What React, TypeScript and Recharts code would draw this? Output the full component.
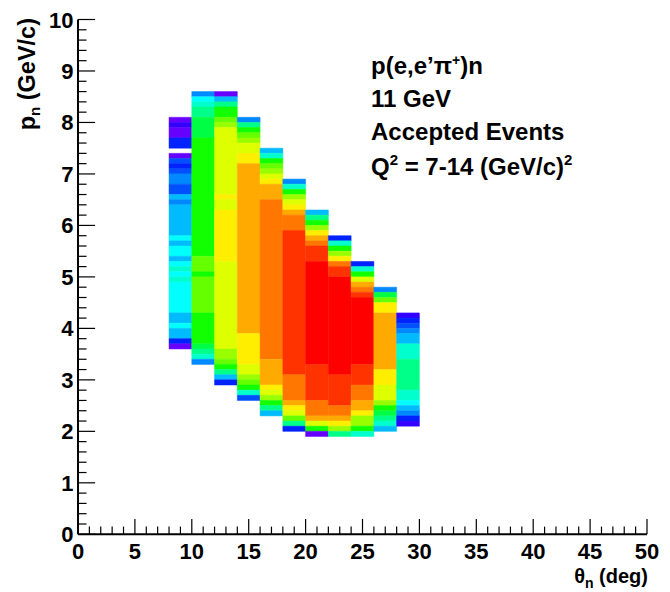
import React from 'react';
import { ComposedChart, XAxis, YAxis, ReferenceArea } from 'recharts';

const FONT = '"Liberation Sans", Arial, Helvetica, sans-serif';

// colour levels (ROOT rainbow palette), index = content level
const PALETTE = [
  '#6600FF', '#3300FF', '#0022FF', '#0050FF', '#0088FF', '#00BBFF', '#00FFFF',
  '#00FFCC', '#00FF88', '#00FF44', '#11FF00', '#66FF00', '#99FF00', '#DDFF00',
  '#FFEE00', '#FFAA00', '#FF7700', '#FF3300', '#FF0000',
];

// theta bins (deg), low edges; width 2 deg
const thetaLowEdges = [8, 10, 12, 14, 16, 18, 20, 22, 24, 26, 28];
const thetaBinWidth = 2;

// each column: [pLow, pHigh, level]
const colTheta08: [number, number, number][] = [
  [8.0, 8.1, 0], [7.9, 8.0, 1], [7.7, 7.9, 0], [7.5, 7.7, 2], [7.3, 7.4, 0], [7.2, 7.3, 3],
  [7.1, 7.2, 2], [7.0, 7.1, 3], [6.8, 7.0, 4], [6.6, 6.8, 3], [6.5, 6.6, 5], [6.4, 6.5, 4],
  [5.8, 6.4, 5], [5.7, 5.8, 6], [5.6, 5.7, 5], [5.4, 5.6, 6], [5.3, 5.4, 5], [5.2, 5.3, 6],
  [5.1, 5.2, 7], [5.0, 5.1, 6], [4.9, 5.0, 7], [4.3, 4.9, 6], [4.1, 4.3, 5], [4.0, 4.1, 6],
  [3.8, 4.0, 5], [3.7, 3.8, 2], [3.6, 3.7, 0],
];
const colTheta10: [number, number, number][] = [
  [8.5, 8.6, 4], [8.4, 8.5, 6], [8.3, 8.4, 7], [8.1, 8.3, 8], [7.7, 8.1, 9], [5.4, 7.7, 10],
  [5.1, 5.4, 11], [5.0, 5.1, 10], [4.3, 5.0, 11], [3.7, 4.3, 10], [3.6, 3.7, 9], [3.5, 3.6, 8],
  [3.4, 3.5, 7], [3.3, 3.4, 4],
];
const colTheta12: [number, number, number][] = [
  [8.5, 8.6, 0], [8.4, 8.5, 5], [8.3, 8.4, 8], [8.1, 8.3, 10], [8.0, 8.1, 11], [7.9, 8.0, 12],
  [6.6, 7.9, 13], [6.5, 6.6, 14], [6.3, 6.5, 13], [5.3, 6.3, 14], [3.6, 5.3, 13], [3.4, 3.6, 12],
  [3.3, 3.4, 11], [3.2, 3.3, 10], [3.1, 3.2, 8], [3.0, 3.1, 5], [2.9, 3.0, 2],
];
const colTheta14: [number, number, number][] = [
  [8.0, 8.1, 4], [7.9, 8.0, 8], [7.8, 7.9, 10], [7.7, 7.8, 11], [7.6, 7.7, 12], [7.4, 7.6, 13],
  [7.2, 7.4, 14], [3.9, 7.2, 15], [3.3, 3.9, 14], [3.1, 3.3, 13], [3.0, 3.1, 12], [2.9, 3.0, 11],
  [2.8, 2.9, 10], [2.7, 2.8, 7], [2.6, 2.7, 3],
];
const colTheta16: [number, number, number][] = [
  [7.4, 7.5, 5], [7.3, 7.4, 7], [7.2, 7.3, 10], [7.1, 7.2, 11], [7.0, 7.1, 12], [6.9, 7.0, 13],
  [6.8, 6.9, 14], [6.5, 6.8, 15], [3.4, 6.5, 16], [2.9, 3.4, 15], [2.8, 2.9, 14], [2.7, 2.8, 13],
  [2.6, 2.7, 12], [2.5, 2.6, 10], [2.4, 2.5, 8], [2.3, 2.4, 5],
];
const colTheta18: [number, number, number][] = [
  [6.8, 6.9, 4], [6.7, 6.8, 7], [6.6, 6.7, 10], [6.5, 6.6, 12], [6.4, 6.5, 13], [6.3, 6.4, 14],
  [6.2, 6.3, 15], [5.9, 6.2, 16], [3.1, 5.9, 17], [2.6, 3.1, 16], [2.5, 2.6, 15], [2.4, 2.5, 14],
  [2.3, 2.4, 13], [2.2, 2.3, 11], [2.1, 2.2, 8], [2.0, 2.1, 2],
];
const colTheta20: [number, number, number][] = [
  [6.2, 6.3, 5], [6.1, 6.2, 8], [6.0, 6.1, 10], [5.9, 6.0, 12], [5.8, 5.9, 14], [5.7, 5.8, 15],
  [5.6, 5.7, 16], [5.3, 5.6, 17], [3.3, 5.3, 18], [2.6, 3.3, 17], [2.3, 2.6, 16], [2.2, 2.3, 15],
  [2.1, 2.2, 13], [2.0, 2.1, 10], [1.9, 2.0, 0],
];
const colTheta22: [number, number, number][] = [
  [5.7, 5.8, 2], [5.6, 5.7, 7], [5.5, 5.6, 10], [5.4, 5.5, 12], [5.3, 5.4, 14], [5.2, 5.3, 16],
  [5.0, 5.2, 17], [3.1, 5.0, 18], [2.5, 3.1, 17], [2.3, 2.5, 16], [2.2, 2.3, 15], [2.1, 2.2, 14],
  [2.0, 2.1, 12], [1.9, 2.0, 8],
];
const colTheta24: [number, number, number][] = [
  [5.2, 5.3, 2], [5.1, 5.2, 7], [5.0, 5.1, 10], [4.9, 5.0, 13], [4.8, 4.9, 15], [4.7, 4.8, 16],
  [4.6, 4.7, 17], [3.3, 4.6, 18], [2.9, 3.3, 17], [2.6, 2.9, 16], [2.4, 2.6, 15], [2.3, 2.4, 14],
  [2.1, 2.3, 12], [2.0, 2.1, 10], [1.9, 2.0, 7],
];
const colTheta26: [number, number, number][] = [
  [4.7, 4.8, 4], [4.6, 4.7, 9], [4.5, 4.6, 11], [4.3, 4.5, 14], [3.2, 4.3, 15], [2.9, 3.2, 14],
  [2.6, 2.9, 13], [2.5, 2.6, 12], [2.4, 2.5, 10], [2.3, 2.4, 9], [2.2, 2.3, 8], [2.1, 2.2, 7],
  [2.0, 2.1, 5],
];
const colTheta28: [number, number, number][] = [
  [4.2, 4.3, 1], [4.1, 4.2, 2], [4.0, 4.1, 3], [3.9, 4.0, 4], [3.7, 3.9, 5], [3.4, 3.7, 7],
  [2.8, 3.4, 8], [2.6, 2.8, 7], [2.5, 2.6, 6], [2.4, 2.5, 5], [2.3, 2.4, 4], [2.2, 2.3, 2],
  [2.1, 2.2, 1],
];

const columns = [
  colTheta08, colTheta10, colTheta12, colTheta14, colTheta16, colTheta18,
  colTheta20, colTheta22, colTheta24, colTheta26, colTheta28,
];

const xDomain: [number, number] = [0, 50];
const yDomain: [number, number] = [0, 10];
const xTicks = Array.from({ length: 51 }, (_, i) => i); // minor every 1, major every 5
const yTicks = Array.from({ length: 51 }, (_, i) => i / 5); // minor every 0.2, major every 1

const X_MAJOR = 15.4;
const Y_MAJOR = 17.1;

const isXMajor = (v: number) => Math.abs(v / 5 - Math.round(v / 5)) < 1e-6;
const isYMajor = (v: number) => Math.abs(v - Math.round(v)) < 1e-6;

const XTickBottom = (props: any) => {
  const { x, y, payload } = props;
  const v = payload.value;
  const major = isXMajor(v);
  return (
    <g>
      <line x1={x} x2={x} y1={y} y2={y - (major ? X_MAJOR : X_MAJOR / 2)} stroke="#000" strokeWidth={1.2} />
      {major && (
        <text x={x} y={y + 25} textAnchor="middle" fontFamily={FONT} fontWeight="bold" fontSize={22} fill="#000">
          {v}
        </text>
      )}
    </g>
  );
};

const XTickTop = (props: any) => {
  const { x, y, payload } = props;
  const major = isXMajor(payload.value);
  return <line x1={x} x2={x} y1={y} y2={y + (major ? X_MAJOR : X_MAJOR / 2)} stroke="#000" strokeWidth={1.2} />;
};

const YTickLeft = (props: any) => {
  const { x, y, payload } = props;
  const v = payload.value;
  const major = isYMajor(v);
  return (
    <g>
      <line x1={x} x2={x + (major ? Y_MAJOR : Y_MAJOR / 2)} y1={y} y2={y} stroke="#000" strokeWidth={1.2} />
      {major && (
        <text x={x - 4.5} y={y + 8} textAnchor="end" fontFamily={FONT} fontWeight="bold" fontSize={22} fill="#000">
          {Math.round(v)}
        </text>
      )}
    </g>
  );
};

const YTickRight = (props: any) => {
  const { x, y, payload } = props;
  const major = isYMajor(payload.value);
  return <line x1={x} x2={x - (major ? Y_MAJOR : Y_MAJOR / 2)} y1={y} y2={y} stroke="#000" strokeWidth={1.2} />;
};

const textStyle = { fontFamily: FONT, fontWeight: 'bold' as const, fill: '#000' };

export default function App() {
  return (
    <div style={{ position: 'absolute', left: 0, top: 0, background: '#fff' }}>
      <ComposedChart width={670} height={592} margin={{ top: 19.5, right: 23, left: 0, bottom: 0 }}>
        <XAxis
          xAxisId="b"
          type="number"
          dataKey="x"
          domain={xDomain}
          ticks={xTicks}
          interval={0}
          height={57.7}
          tickSize={0}
          tickMargin={0}
          tick={<XTickBottom />}
          tickLine={false}
          axisLine={{ stroke: '#000', strokeWidth: 2 }}
          allowDataOverflow
        />
        <XAxis
          xAxisId="t"
          orientation="top"
          type="number"
          dataKey="x"
          domain={xDomain}
          ticks={xTicks}
          interval={0}
          height={0}
          tickSize={0}
          tickMargin={0}
          tick={<XTickTop />}
          tickLine={false}
          axisLine={{ stroke: '#000', strokeWidth: 2 }}
          allowDataOverflow
        />
        <YAxis
          yAxisId="l"
          type="number"
          dataKey="y"
          domain={yDomain}
          ticks={yTicks}
          interval={0}
          width={78}
          tickSize={0}
          tickMargin={0}
          tick={<YTickLeft />}
          tickLine={false}
          axisLine={{ stroke: '#000', strokeWidth: 2 }}
          allowDataOverflow
        />
        <YAxis
          yAxisId="r"
          orientation="right"
          type="number"
          dataKey="y"
          domain={yDomain}
          ticks={yTicks}
          interval={0}
          width={0}
          tickSize={0}
          tickMargin={0}
          tick={<YTickRight />}
          tickLine={false}
          axisLine={{ stroke: '#000', strokeWidth: 2 }}
          allowDataOverflow
        />
        {columns.flatMap((col, ci) =>
          col.map(([lo, hi, z], si) => (
            <ReferenceArea
              key={`c${ci}-${si}`}
              xAxisId="b"
              yAxisId="l"
              x1={thetaLowEdges[ci]}
              x2={thetaLowEdges[ci] + thetaBinWidth}
              y1={lo}
              y2={hi}
              fill={PALETTE[z]}
              fillOpacity={1}
              stroke={PALETTE[z]}
              strokeWidth={0.5}
              ifOverflow="visible"
            />
          ))
        )}
        <text x={371} y={74} fontSize={24} {...textStyle}>
          p(e,e’π<tspan dy={-9} fontSize={14}>+</tspan>
          <tspan dy={9}>)n</tspan>
        </text>
        <text x={371} y={107} fontSize={24} {...textStyle}>11 GeV</text>
        <text x={371} y={140} fontSize={24} {...textStyle}>Accepted Events</text>
        <text x={371} y={175} fontSize={24} {...textStyle}>
          Q<tspan dy={-10} fontSize={15}>2</tspan>
          <tspan dy={10}> = 7-14 (GeV/c)</tspan>
          <tspan dy={-10} fontSize={15}>2</tspan>
        </text>
        <text x={648} y={583} textAnchor="end" fontSize={20} {...textStyle}>
          θ<tspan dy={5} fontSize={14}>n</tspan>
          <tspan dy={-5}> (deg)</tspan>
        </text>
        <text x={35} y={18} textAnchor="end" transform="rotate(-90, 35, 18)" fontSize={23.5} {...textStyle}>
          p<tspan dy={5} fontSize={15}>n</tspan>
          <tspan dy={-5}> (GeV/c)</tspan>
        </text>
      </ComposedChart>
    </div>
  );
}
